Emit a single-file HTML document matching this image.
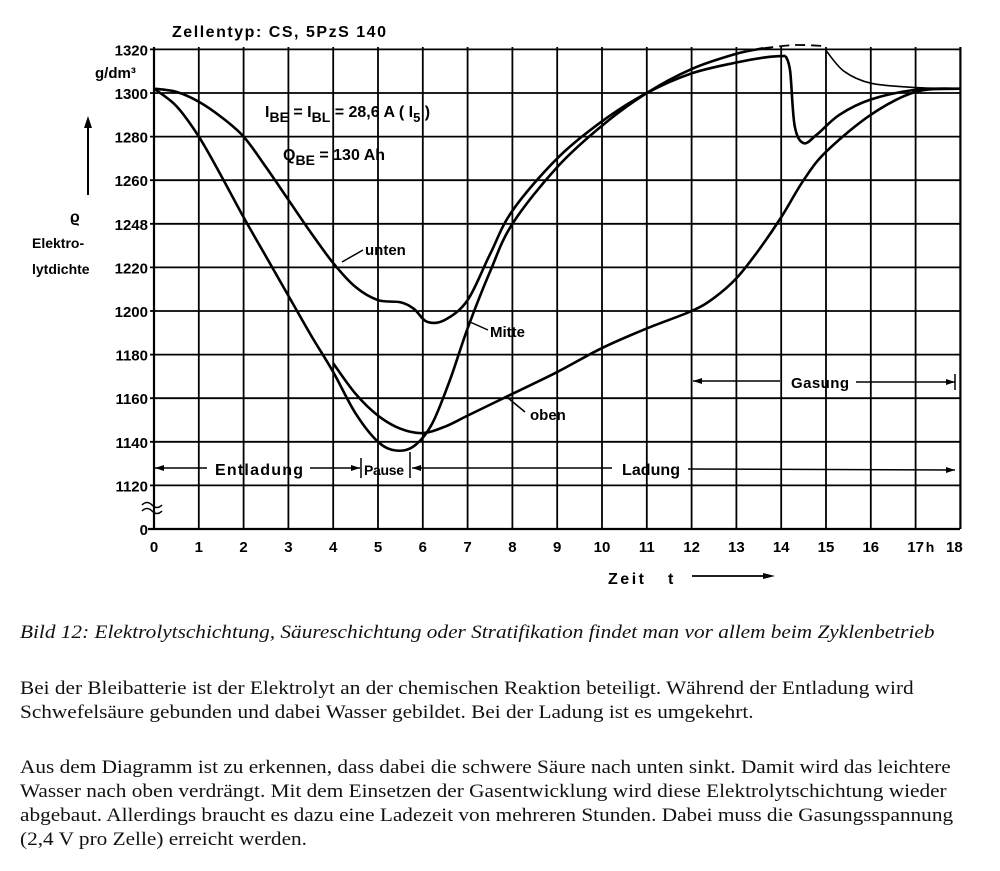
<!DOCTYPE html>
<html><head><meta charset="utf-8"><style>
body{margin:0;background:#fff;width:1000px;height:871px;overflow:hidden;position:relative}
svg{position:absolute;left:0;top:0}
.t{font-family:"Liberation Sans",sans-serif;font-weight:bold;fill:#000}
.p{position:absolute;left:20px;font-family:"Liberation Serif",serif;font-size:19px;color:#111;line-height:24px;margin:0;white-space:nowrap;transform:scaleX(1.12);transform-origin:0 0}
</style></head><body>
<svg id="s" width="1000" height="600" viewBox="0 0 1000 600"></svg>
<div class="p" style="top:621px;font-style:italic">Bild 12: Elektrolytschichtung, Säureschichtung oder Stratifikation findet man vor allem beim Zyklenbetrieb</div>
<div class="p" style="top:677px">Bei der Bleibatterie ist der Elektrolyt an der chemischen Reaktion beteiligt. Während der Entladung wird<br>Schwefelsäure gebunden und dabei Wasser gebildet. Bei der Ladung ist es umgekehrt.</div>
<div class="p" style="top:756px">Aus dem Diagramm ist zu erkennen, dass dabei die schwere Säure nach unten sinkt. Damit wird das leichtere<br>Wasser nach oben verdrängt. Mit dem Einsetzen der Gasentwicklung wird diese Elektrolytschichtung wieder<br>abgebaut. Allerdings braucht es dazu eine Ladezeit von mehreren Stunden. Dabei muss die Gasungsspannung<br>(2,4 V pro Zelle) erreicht werden.</div>
<script>
const X=h=>154+44.8*h, Y=v=>93+(1300-v)*2.18;
let s='';
for(let h=0;h<=18;h++){s+=`<line x1="${X(h)}" y1="47" x2="${X(h)}" y2="529" stroke="#000" stroke-width="${h==0||h==18?2.2:1.8}"/>`;}
for(let v=1120;v<=1320;v+=20){s+=`<line x1="150" y1="${Y(v)}" x2="960" y2="${Y(v)}" stroke="#000" stroke-width="1.8"/>`;}
s+=`<line x1="148" y1="529" x2="960" y2="529" stroke="#000" stroke-width="2.2"/>`;
function txt(x,y,t,sz,anc,ls){return `<text class="t" x="${x}" y="${y}" font-size="${sz||15}" text-anchor="${anc||'start'}" ${ls?`textLength="${ls}"`:''}>${t}</text>`;}
for(let v=1120;v<=1320;v+=20){let l=v==1240?'1248':v;s+=txt(148,Y(v)+6,l,15,'end');}
s+=txt(148,535,'0',15,'end');
for(let h=0;h<=18;h++){let l=h==18?'18':h;s+=txt(X(h)+(h==18?-6:0),552,l,15,'middle');}
s+=txt(930,552,'h',14,'middle');
s+=txt(172,37,'Zellentyp: CS,  5PzS 140',16,'start',214);
s+=txt(95,78,'g/dm³',15);
s+=`<line x1="88" y1="195" x2="88" y2="122" stroke="#000" stroke-width="2"/><path d="M84,128 L88,116 L92,128Z"/>`;
s+=txt(70,222,'ϱ',16);
s+=txt(32,248,'Elektro-',14);
s+=txt(32,274,'lytdichte',14);
s+=`<path d="M142,505 q5,-5 10,0 t10,0 M142,511 q5,-5 10,0 t10,0" fill="none" stroke="#000" stroke-width="1.5"/>`;
s+=txt(265,117,'I<tspan dy="5" font-size="14">BE</tspan><tspan dy="-5"> = I</tspan><tspan dy="5" font-size="14">BL</tspan><tspan dy="-5"> = 28,6 A  ( I</tspan><tspan dy="5" font-size="13">5</tspan><tspan dy="-5"> )</tspan>',16);
s+=txt(283,160,'Q<tspan dy="5" font-size="14">BE</tspan><tspan dy="-5"> = 130 Ah</tspan>',16);
s+=txt(365,255,'unten',15);s+=`<path d="M342,262 L363,250" stroke="#000" stroke-width="1.5"/>`;
s+=txt(490,337,'Mitte',15);s+=`<path d="M470,322 L488,330" stroke="#000" stroke-width="1.5"/>`;
s+=txt(530,420,'oben',15);s+=`<path d="M508,398 L525,412" stroke="#000" stroke-width="1.5"/>`;
s+=`<g stroke="#000" stroke-width="1.5"><line x1="155" y1="468" x2="207" y2="468"/><line x1="310" y1="468" x2="360" y2="468"/><line x1="361" y1="458" x2="361" y2="478"/><line x1="410" y1="452" x2="410" y2="478"/><line x1="412" y1="468" x2="612" y2="468"/><line x1="688" y1="469" x2="955" y2="470"/>
<line x1="693" y1="381" x2="780" y2="381"/><line x1="856" y1="382" x2="955" y2="382"/><line x1="955" y1="374" x2="955" y2="390"/></g>`;
s+=`<path d="M155,468 l9,-3 v6z M360,468 l-9,-3 v6z M412,468 l9,-3 v6z M693,381 l9,-3 v6z M955,382 l-9,-3 v6z M955,470 l-9,-3 v6z"/>`;
s+=txt(215,475,'Entladung',16,'start',88);
s+=txt(364,475,'Pause',14,'start',40);
s+=txt(622,475,'Ladung',16,'start',58);
s+=txt(791,388,'Gasung',15,'start',58);
s+=txt(608,584,'Zeit',16,'start',36);s+=txt(668,584,'t',16);
s+=`<line x1="692" y1="576" x2="765" y2="576" stroke="#000" stroke-width="1.8"/><path d="M775,576 l-12,-3 v6z"/>`;
function curve(pts,w,dash){let p=pts.map(a=>[X(a[0]),Y(a[1])]);let d='M'+p[0].join(',');
for(let i=0;i<p.length-1;i++){let p0=p[i-1]||p[i],p1=p[i],p2=p[i+1],p3=p[i+2]||p2;
let c1=[p1[0]+(p2[0]-p0[0])/6,p1[1]+(p2[1]-p0[1])/6],c2=[p2[0]-(p3[0]-p1[0])/6,p2[1]-(p3[1]-p1[1])/6];
d+=` C${c1.join(',')} ${c2.join(',')} ${p2.join(',')}`;}
return `<path d="${d}" fill="none" stroke="#000" stroke-width="${w||2.6}" ${dash?`stroke-dasharray="${dash}"`:''}/>`;}
s+=curve([[0,1302],[0.5,1300.5],[1,1296],[1.5,1289],[2,1280],[2.5,1266],[3,1251],[3.5,1236],[4,1222],[4.5,1211],[5,1205],[5.5,1204],[5.8,1201],[6.1,1195],[6.5,1196],[7,1205],[7.5,1226],[8,1246],[9,1270],[10,1287],[11,1300],[12,1309],[13,1314],[13.7,1316.5],[14.1,1317]]);
s+=curve([[14.1,1317],[14.2,1310],[14.3,1285],[14.5,1277],[14.8,1281],[15.3,1290],[16,1297],[17,1301.5],[18,1302]]);
s+=curve([[0,1302],[0.5,1294],[1,1280],[1.5,1262],[2,1243],[2.5,1225],[3,1207],[3.5,1189],[4,1172],[4.5,1153],[5,1140],[5.4,1136],[5.8,1138],[6.2,1148],[6.6,1168],[7,1192],[7.5,1218],[8,1240],[9,1266],[10,1285],[11,1300],[12,1311],[13,1318],[13.6,1320.5]]);
s+=curve([[13.6,1320.5],[14.3,1322],[15,1321.5]],1.8,'10,6');
s+=curve([[15,1319.5],[15.4,1310],[16,1304.5],[17,1302.5],[18,1302]],1.6);
s+=curve([[4,1176],[4.5,1162],[5,1152],[5.5,1146],[6,1144],[6.5,1147],[7,1152],[8,1162],[9,1172],[10,1183],[11,1192],[12,1200],[12.5,1206],[13,1215],[13.5,1228],[14,1243],[14.5,1260],[15,1273],[16,1290],[17,1300.5],[18,1302]]);
document.getElementById('s').innerHTML=s;
</script>
</body></html>
